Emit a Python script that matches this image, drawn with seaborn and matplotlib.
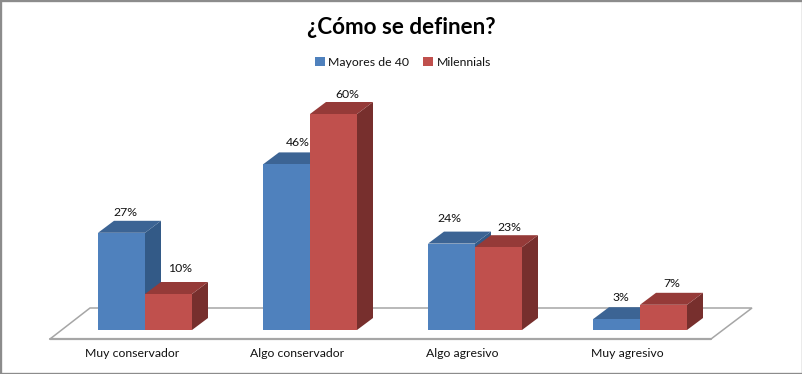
import matplotlib
matplotlib.use("Agg")
import matplotlib.pyplot as plt
from matplotlib.patches import Polygon, Rectangle
from matplotlib.transforms import ScaledTranslation
import pandas as pd
import seaborn as sns

title = "¿Cómo se definen?"
categories = ["Muy conservador", "Algo conservador", "Algo agresivo", "Muy agresivo"]
series_names = ["Mayores de 40", "Milennials"]
mayores = [27, 46, 24, 3]
milennials = [10, 60, 23, 7]

FRONT = {"Mayores de 40": "#4F81BD", "Milennials": "#C0504D"}
TOP = {"Mayores de 40": "#3C6494", "Milennials": "#953A38"}
SIDE = {"Mayores de 40": "#335A87", "Milennials": "#772F2D"}
# per-label nudges in pixels (x from bar centre, y above bar top)
LABEL_NUDGE = {"Mayores de 40": [(4, 20), (11, 22), (-2, 25), (4.5, 22)],
               "Milennials": [(12, 25), (14, 19), (11, 20), (8.5, 21)]}

W, H = 803, 374
sns.set_theme(style="white")
plt.rcParams["font.family"] = ["Lato", "DejaVu Sans"]

fig = plt.figure(figsize=(W / 100, H / 100), dpi=100, facecolor="white")
L, R, BASE, TOPPX = 20, 780, 330, 60
ax = fig.add_axes([L / W, (H - BASE) / H, (R - L) / W, (BASE - TOPPX) / H])
ax.patch.set_alpha(0)

df = pd.DataFrame({
    "cat": categories * 2,
    "serie": [series_names[0]] * 4 + [series_names[1]] * 4,
    "val": mayores + milennials,
})
sns.barplot(data=df, x="cat", y="val", hue="serie", hue_order=series_names,
            order=categories, palette=FRONT, width=94 / 165, gap=0,
            saturation=1, linewidth=0, ax=ax)

PX_X = 165.0          # pixels per category
PX_Y = 3.6            # pixels per percent
ax.set_xlim((L - 145) / PX_X, (R - 145) / PX_X)
ax.set_ylim(0, (BASE - TOPPX) / PX_Y)
dx, dy = 16 / PX_X, 12 / PX_Y

# floor of the 3-D chart, placed in pixel space
to_fig = fig.transFigure
def px(x, y):
    return (x / W, (H - y) / H)
floor = Polygon([px(50, 339), px(90, 308), px(752, 308), px(711, 339)], closed=True,
                facecolor="white", edgecolor="#A6A6A6", linewidth=1.1,
                transform=to_fig, zorder=0.5, clip_on=False)
ax.add_patch(floor)
ax.plot([50 / W, 711 / W], [(H - 339.3) / H] * 2, transform=to_fig, color="#A6A6A6",
        lw=1.6, zorder=0.6, clip_on=False)

for s_idx, (name, container) in enumerate(zip(series_names, ax.containers)):
    base_z = 2 + 2 * s_idx
    for c_idx, bar in enumerate(container.patches):
        x0, w, h = bar.get_x(), bar.get_width(), bar.get_height()
        x1 = x0 + w
        bar.set_zorder(base_z + 1)
        ax.add_patch(Polygon([(x1, 0), (x1 + dx, dy), (x1 + dx, h + dy), (x1, h)],
                             closed=True, facecolor=SIDE[name], edgecolor="none",
                             zorder=base_z))
        ax.add_patch(Polygon([(x0, h), (x0 + dx, h + dy), (x1 + dx, h + dy), (x1, h)],
                             closed=True, facecolor=TOP[name], edgecolor="none",
                             zorder=base_z))
        nx, ny = LABEL_NUDGE[name][c_idx]
        ax.annotate(f"{int(h)}%", (x0 + w / 2, h), xytext=(nx * 0.72, ny * 0.72),
                    textcoords="offset points", ha="center", va="center",
                    fontsize=8.8, color="#111111", zorder=10)

ax.set_xlabel("")
ax.set_ylabel("")
ax.set_yticks([])
ax.tick_params(axis="x", length=0, pad=13, labelsize=8.8, labelcolor="#111111")
shift = ScaledTranslation(-13 / 100, 0, fig.dpi_scale_trans)
for lab in ax.get_xticklabels():
    lab.set_transform(lab.get_transform() + shift)
sns.despine(ax=ax, left=True, bottom=True)

handles, labels = ax.get_legend_handles_labels()
ax.legend(handles, labels, loc="center", bbox_to_anchor=(403 / W, (H - 62) / H),
          bbox_transform=fig.transFigure, ncol=2, frameon=False, fontsize=8.8,
          handlelength=0.8, handleheight=0.8, handletextpad=0.3, columnspacing=1.15,
          labelcolor="#111111")

fig.text(401 / W, (H - 27) / H, title, ha="center", va="center", fontsize=16.2,
         fontweight="bold", color="black")

fig.add_artist(Rectangle((0, 0), 1, 1, transform=fig.transFigure, fill=False,
                         edgecolor="#8C8C8C", linewidth=2.4))

fig.savefig("out.png", dpi=100, facecolor="white")
